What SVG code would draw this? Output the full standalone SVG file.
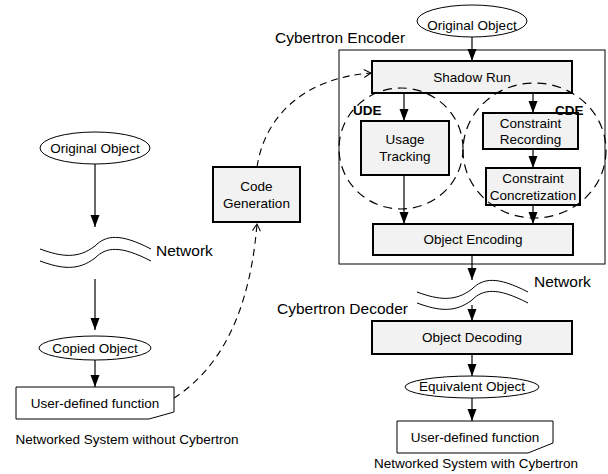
<svg xmlns="http://www.w3.org/2000/svg" width="608" height="474" viewBox="0 0 608 474">
<style>
text{font-family:"Liberation Sans",Arial,sans-serif;fill:#000}
.t{font-size:13.5px;text-anchor:middle}
.lbl{font-size:15.5px}
.cap{font-size:13.5px;text-anchor:middle}
.bold{font-size:13.5px;font-weight:bold}
.box{fill:#f2f2f2;stroke:#000;stroke-width:2}
.thin{fill:#fff;stroke:#000;stroke-width:1}
.frame{fill:none;stroke:#000;stroke-width:1}
.wave{fill:none;stroke:#000;stroke-width:1}
.arr{fill:none;stroke:#000;stroke-width:1.2;marker-end:url(#ah)}
.dash{fill:none;stroke:#000;stroke-width:1.1;stroke-dasharray:7,5}
.dashc{fill:none;stroke:#000;stroke-width:1.2;stroke-dasharray:9,6}
</style>
<defs>
<marker id="ah" markerUnits="userSpaceOnUse" markerWidth="12" markerHeight="10" refX="12" refY="5" orient="auto"><path d="M0,0.5 L12,5 L0,9.5 z" fill="#000"/></marker>
<marker id="oa" markerUnits="userSpaceOnUse" markerWidth="10" markerHeight="10" refX="8" refY="5" orient="auto"><path d="M1,1 L8,5 L1,9" fill="none" stroke="#000" stroke-width="1"/></marker>
<path id="wv" d="M0,0 C22,8 38,10 55,-3 C66,-14 80,-16 111,0"/>
</defs>
<rect width="608" height="474" fill="#fff"/>

<!-- Left system -->
<g id="left-original">
<ellipse cx="95" cy="148" rx="55" ry="16" class="thin"/>
<text x="95" y="152.5" class="t">Original Object</text>
</g>
<g id="left-network">
<use href="#wv" class="wave" transform="translate(40,249)"/>
<use href="#wv" class="wave" transform="translate(40,261)"/>
<text x="156" y="256" class="lbl">Network</text>
</g>
<g id="left-copied">
<ellipse cx="95" cy="348" rx="56" ry="12" class="thin"/>
<text x="95" y="352.5" class="t">Copied Object</text>
</g>
<g id="left-udf">
<polygon points="16,387 174,387 174,412 149,419 16,419" class="thin"/>
<text x="95" y="407.5" class="t">User-defined function</text>
</g>
<g id="codegen">
<rect x="213" y="167" width="87" height="55" class="box"/>
<text x="256.5" y="190.5" class="t">Code</text>
<text x="256.5" y="207.5" class="t">Generation</text>
</g>
<text x="127" y="444" class="cap">Networked System without Cybertron</text>

<!-- Right system -->
<g id="encoder">
<rect x="339" y="50" width="266" height="214" class="frame"/>
<text x="275" y="43" class="lbl">Cybertron Encoder</text>
</g>
<g id="right-original">
<ellipse cx="472" cy="21" rx="55" ry="16" class="thin"/>
<text x="472" y="30" class="t">Original Object</text>
</g>
<g id="shadow-run">
<rect x="372" y="61" width="200" height="32" class="box"/>
<text x="472" y="82" class="t">Shadow Run</text>
</g>
<g id="usage-tracking">
<rect x="361" y="121" width="88" height="54" class="box"/>
<text x="405" y="144" class="t">Usage</text>
<text x="405" y="161" class="t">Tracking</text>
</g>
<g id="constraint-recording">
<rect x="483" y="113" width="95" height="36" class="box"/>
<text x="530.5" y="128" class="t">Constraint</text>
<text x="530.5" y="144" class="t">Recording</text>
</g>
<g id="constraint-concretization">
<rect x="486" y="168" width="94" height="37" class="box"/>
<text x="533" y="183" class="t">Constraint</text>
<text x="533" y="200" class="t">Concretization</text>
</g>
<g id="object-encoding">
<rect x="373" y="224" width="200" height="31" class="box"/>
<text x="473" y="244" class="t">Object Encoding</text>
</g>
<g id="ude">
<ellipse cx="401" cy="148.5" rx="62" ry="60.5" class="dashc"/>
<text x="353" y="115" class="bold">UDE</text>
</g>
<g id="cde">
<ellipse cx="534.5" cy="150.5" rx="71.5" ry="67.5" class="dashc"/>
<text x="555" y="115" class="bold">CDE</text>
</g>
<g id="right-network">
<use href="#wv" class="wave" transform="translate(417,292)"/>
<use href="#wv" class="wave" transform="translate(417,303)"/>
<text x="534" y="287" class="lbl">Network</text>
</g>
<g id="decoder-label">
<text x="277" y="314" class="lbl">Cybertron Decoder</text>
</g>
<g id="object-decoding">
<rect x="372" y="321" width="200" height="33" class="box"/>
<text x="472" y="342" class="t">Object Decoding</text>
</g>
<g id="equivalent-object">
<ellipse cx="472" cy="387" rx="67" ry="11" class="thin"/>
<text x="472" y="391" class="t">Equivalent Object</text>
</g>
<g id="right-udf">
<polygon points="397,421 553,421 553,443 528,453 397,453" class="thin"/>
<text x="475" y="442" class="t">User-defined function</text>
</g>
<text x="476" y="468" class="cap">Networked System with Cybertron</text>

<g id="connectors">
<line x1="95" y1="164" x2="95" y2="227" class="arr"/>
<line x1="95" y1="279" x2="95" y2="330" class="arr"/>
<line x1="95" y1="360" x2="95" y2="387" class="arr"/>
<path d="M174,398 C205,378 248,335 257,224" class="dash" marker-end="url(#oa)"/>
<path d="M257,167 C265,115 305,78 371,73" class="dash" marker-end="url(#oa)"/>
<line x1="472" y1="37" x2="472" y2="61" class="arr"/>
<line x1="404" y1="93" x2="404" y2="121" class="arr"/>
<line x1="533" y1="93" x2="533" y2="113" class="arr"/>
<line x1="533" y1="149" x2="533" y2="168" class="arr"/>
<line x1="533" y1="205" x2="533" y2="224" class="arr"/>
<line x1="404" y1="175" x2="404" y2="224" class="arr"/>
<line x1="472" y1="255" x2="472" y2="280" class="arr"/>
<line x1="472" y1="305" x2="472" y2="321" class="arr"/>
<line x1="472" y1="354" x2="472" y2="376" class="arr"/>
<line x1="472" y1="398" x2="472" y2="421" class="arr"/>
</g>
</svg>
